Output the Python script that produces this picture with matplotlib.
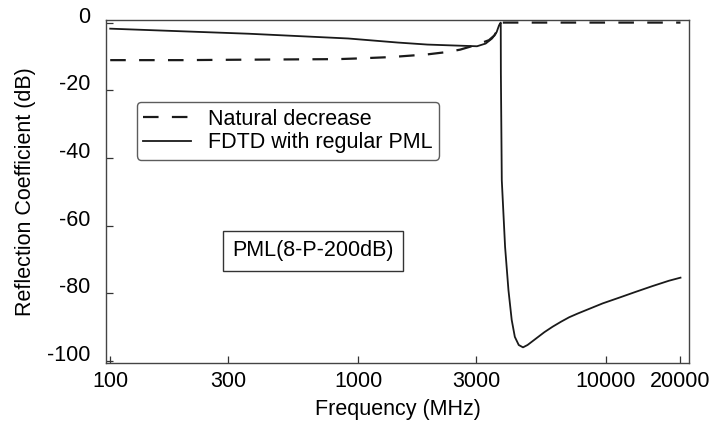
import numpy as np
import matplotlib
matplotlib.use("Agg")
import matplotlib.pyplot as plt
from matplotlib.ticker import FixedLocator, FixedFormatter, NullLocator

plt.rcParams['font.family'] = ['Liberation Sans', 'DejaVu Sans']

# natural decrease (dashed)
freq_nat = [100, 200, 300, 500, 832, 1000, 1355, 1905, 2290, 2582, 2965, 3375,
            3550, 3680, 3765, 5000, 10000, 20000]
refl_nat = [-11.1, -11.1, -11.0, -10.9, -10.8, -10.6, -10.2, -9.4, -8.7, -8.0, -6.7, -5.2,
            -3.8, -1.8, 0.0, 0.0, 0.0, 0.0]

# FDTD with regular PML (solid)
freq_fdtd = [100, 363, 912, 1445, 1905, 2500, 3020, 3273, 3475, 3625, 3707, 3765,
             3770, 3802, 3920, 4045, 4169, 4292, 4450, 4630, 4830, 5224, 5650, 6095, 6600,
             7112, 7700, 8318, 9710, 11330, 13183, 15400, 17980, 20000]
refl_fdtd = [-1.8, -3.3, -4.7, -5.9, -6.5, -6.8, -7.0, -6.2, -4.7, -2.8, -0.8, 0.0,
             -15.0, -46.6, -66.3, -79.1, -87.9, -92.9, -95.3, -96.0, -95.3, -93.4, -91.5, -89.9, -88.4,
             -87.1, -86.0, -85.0, -83.0, -81.3, -79.6, -77.9, -76.3, -75.4]

xticks = [100, 300, 1000, 3000, 10000, 20000]
xticklabels = ['100', '300', '1000', '3000', '10000', '20000']
yticks = [0, -20, -40, -60, -80, -100]
yticklabels = ['0', '-20', '-40', '-60', '-80', '-100']

fs = 15.5

fig = plt.figure(figsize=(7.15, 4.3), dpi=100)
ax = fig.add_axes([0.148, 0.156, 0.816, 0.797])

ax.plot(freq_nat, refl_nat, color='#1a1a1a', lw=1.6, dashes=(7, 6),
        label='Natural decrease')
ax.plot(freq_fdtd, refl_fdtd, color='#1a1a1a', lw=1.3,
        label='FDTD with regular PML')

ax.set_xscale('log')
ax.set_xlim(96, 21700)
ax.set_ylim(-100.6, 0.7)

ax.xaxis.set_major_locator(FixedLocator(xticks))
ax.xaxis.set_major_formatter(FixedFormatter(xticklabels))
ax.xaxis.set_minor_locator(NullLocator())
ax.yaxis.set_major_locator(FixedLocator(yticks))
ax.yaxis.set_major_formatter(FixedFormatter(yticklabels))

ax.tick_params(direction='in', length=5, width=0.9, color='#333333', labelsize=fs)
ax.tick_params(axis='x', pad=6)
ax.tick_params(axis='y', pad=11)
plt.setp(ax.get_yticklabels(), va='baseline')

for s in ax.spines.values():
    s.set_linewidth(1.0)
    s.set_color('#444444')

ax.set_xlabel('Frequency (MHz)', fontsize=fs, labelpad=5)
ax.set_ylabel('Reflection Coefficient (dB)', fontsize=fs, labelpad=8)

leg = ax.legend(loc='upper left', bbox_to_anchor=(0.053, 0.761), fontsize=fs,
                frameon=True, fancybox=True, handlelength=2.2, handletextpad=0.8,
                labelspacing=0.12, borderpad=0.3, borderaxespad=0)
leg.get_frame().set_edgecolor('#333333')
leg.get_frame().set_linewidth(1.0)

ax.text(0.355, 0.327, 'PML(8-P-200dB)', transform=ax.transAxes, fontsize=fs,
        ha='center', va='center',
        bbox=dict(boxstyle='square,pad=0.45', fc='white', ec='#333333', lw=1.0))

fig.savefig('out.png', dpi=100)
